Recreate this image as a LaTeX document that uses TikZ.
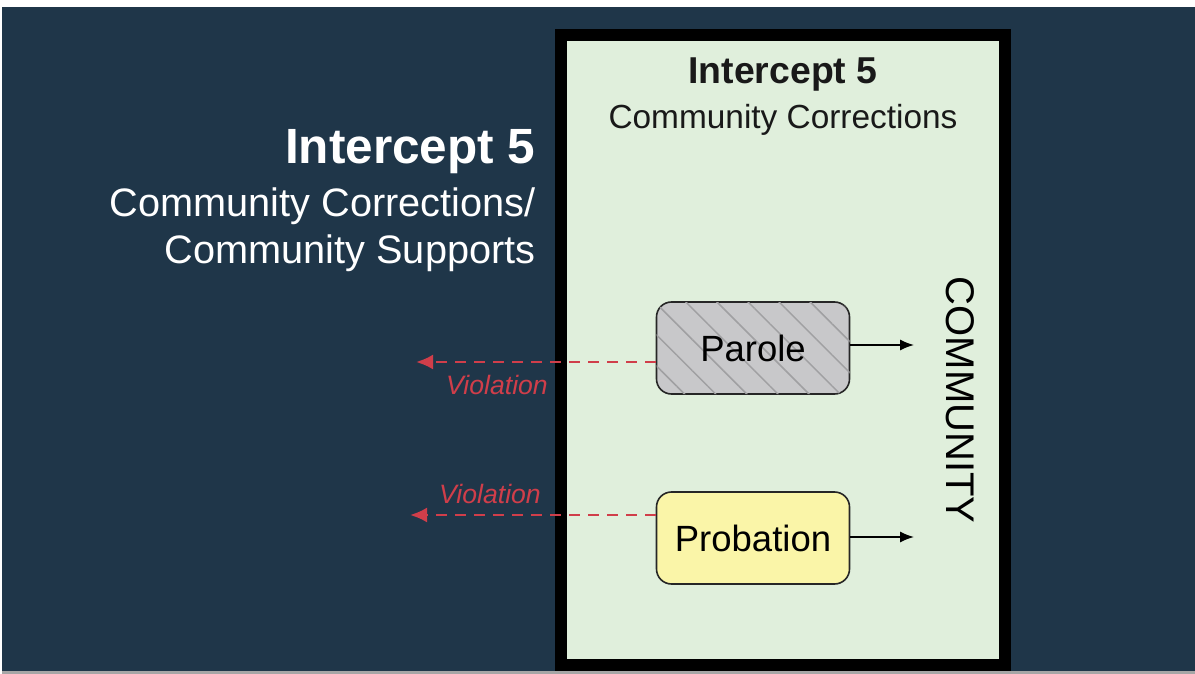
\documentclass[tikz,border=0pt]{standalone}
\usepackage{fontspec}
\setmainfont{Liberation Sans}
\usepackage{tikz}
\usetikzlibrary{arrows, arrows.meta, positioning, patterns.meta}

\definecolor{navy}{RGB}{31,54,73}
\definecolor{paleGreen}{RGB}{224,239,220}
\definecolor{boxGray}{RGB}{200,200,202}
\definecolor{hatchGray}{RGB}{160,160,162}
\definecolor{boxYellow}{RGB}{250,245,168}
\definecolor{vioRed}{RGB}{208,62,74}

\begin{document}
\begin{tikzpicture}[x=1pt, y=-1pt,
    stage box/.style={draw=black!85, line width=1.6pt, rounded corners=15pt,
        minimum width=193pt, minimum height=92pt, font=\fontsize{36.5}{40}\selectfont},
    violation/.style={-{Latex[length=17pt, width=15pt]}, dashed, vioRed, line width=2.5pt, dash pattern=on 11pt off 8pt},
    vio label/.style={vioRed, font=\fontsize{26.6}{28}\selectfont\itshape},
    exit/.style={-{Latex[length=14pt, width=11pt]}, black, line width=1.5pt}]
    \useasboundingbox (0,0) rectangle (1195,674);
    % background and frame
    \fill[white] (0,0) rectangle (1195,674);
    \fill[navy] (2,7) rectangle (1195,671);
    \fill[gray!70] (2,671) rectangle (1195,674);
    \draw[black, line width=12pt, fill=paleGreen] (561,35) rectangle (1005,665);

    % titles
    \node[anchor=east, white, font=\fontsize{49.5}{52}\selectfont\bfseries] (leftTitle) at (539,152) {Intercept 5};
    \node[anchor=north east, white, align=right, font=\fontsize{39.7}{47}\selectfont] (leftSub) at (539,184) {Community Corrections/\\Community Supports};
    \node[black!90, font=\fontsize{37.4}{40}\selectfont\bfseries] (boxTitle) at (783,75) {Intercept 5};
    \node[black!90, font=\fontsize{33.4}{36}\selectfont] (boxSub) at (783,120) {Community Corrections};

    % stages
    \node[stage box, fill=boxGray, postaction={pattern={Lines[angle=-45, distance=22pt, line width=1.5pt]}, pattern color=hatchGray}] (parole) at (753,348) {};
    \node (paroleText) at (parole.center) {\fontsize{36.5}{40}\selectfont Parole};
    \node[stage box, fill=boxYellow] (probation) at (753,538) {Probation};
    \node[rotate=-90, font=\fontsize{40}{42}\selectfont] (community) at (960,400) {COMMUNITY};

    \coordinate (paroleOut) at (914,345);
    \coordinate (probationOut) at (914,537);
    \coordinate (paroleVio) at (416,362);
    \coordinate (probationVio) at (410,515);

    \draw[exit] (parole.east |- paroleOut) -- (paroleOut);
    \draw[exit] (probation.east |- probationOut) -- (probationOut);

    \draw[violation] (parole.west |- paroleVio) -- (paroleVio);
    \draw[violation] (probation.west |- probationVio) -- (probationVio);
    \node[vio label] (paroleVioText) at (497,385) {Violation};
    \node[vio label] (probationVioText) at (490,494) {Violation};
\end{tikzpicture}
\end{document}
